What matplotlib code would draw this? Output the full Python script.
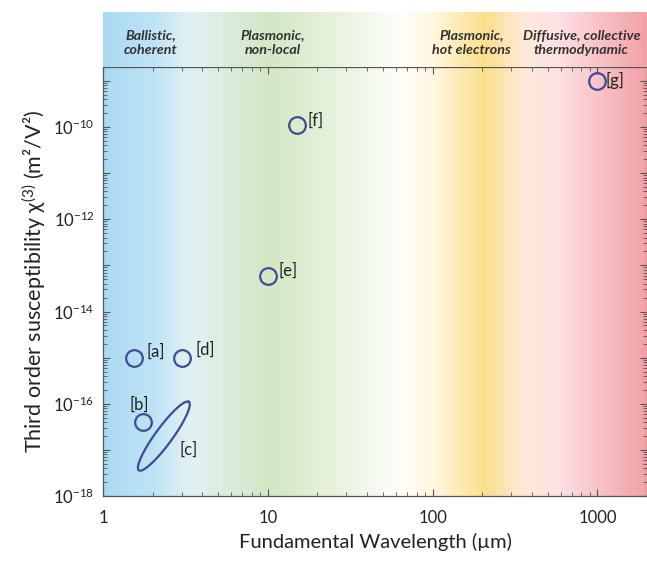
import numpy as np
import matplotlib
matplotlib.use('Agg')
import matplotlib.pyplot as plt
from matplotlib.colors import LinearSegmentedColormap
from matplotlib.ticker import FixedLocator, FuncFormatter, LogLocator, NullFormatter

plt.rcParams['font.family'] = ['Lato', 'DejaVu Sans']
plt.rcParams['mathtext.fontset'] = 'custom'
plt.rcParams['mathtext.rm'] = 'Lato'
plt.rcParams['mathtext.it'] = 'Lato:italic'
plt.rcParams['mathtext.bf'] = 'Lato:bold'

# data (wavelength in um, chi3 in m^2/V^2)
point_names = ['a', 'b', 'd', 'e', 'f', 'g']
wavelength = [1.55, 1.75, 3.0, 10.0, 15.0, 1000.0]
chi3 = [1.0e-15, 4.0e-17, 1.0e-15, 6.0e-14, 1.1e-10, 1.0e-9]

# [c] is a range, drawn as an ellipse between these two tips
c_tips_wavelength = [1.65, 3.32]
c_tips_chi3 = [3.6e-18, 1.1e-16]

regimes = ['Ballistic,\ncoherent', 'Plasmonic,\nnon-local',
           'Plasmonic,\nhot electrons', 'Diffusive, collective\nthermodynamic']
regime_center = [1.95, 10.7, 172, 800]

x_ticks = [1, 10, 100, 1000]
y_ticks = [1e-18, 1e-17, 1e-16, 1e-15, 1e-14, 1e-13, 1e-12, 1e-11, 1e-10, 1e-9]

xmin, xmax = 1, 2000
ymin, ymax = 1e-18, 2e-9

# background colour bands, stops in log10(wavelength)
lmax = np.log10(xmax)
stops = [(0.00, '#aadaf2'), (0.30, '#bfe3f6'), (0.52, '#e2f1f4'),
         (1.01, '#d3e7c4'), (1.59, '#f1f8ea'), (1.80, '#fefefa'),
         (2.02, '#fff6dc'), (2.32, '#fbdf8c'), (2.55, '#fde9d6'),
         (2.76, '#fde2e4'), (lmax, '#f2a1a6')]
cmap = LinearSegmentedColormap.from_list('bands', [(s / lmax, c) for s, c in stops])
grad = np.linspace(0, 1, 600).reshape(1, -1)

fig = plt.figure(figsize=(6.47, 5.63), dpi=100)
ax = fig.add_axes([103 / 647, 67 / 563, 544 / 647, 429 / 563])
band = fig.add_axes([103 / 647, 496 / 563, 544 / 647, 55 / 563])

for a in (ax, band):
    a.imshow(grad, cmap=cmap, aspect='auto', extent=[0, 1, 0, 1],
             transform=a.transAxes, zorder=0, interpolation='bilinear')

# band with regime names
band.set_xscale('log')
band.set_xlim(xmin, xmax)
band.set_ylim(0, 1)
band.axis('off')
for name, xc in zip(regimes, regime_center):
    band.text(xc, 0.44, name, ha='center', va='center', fontsize=10.3,
              fontweight='bold', fontstyle='italic', color='#333333',
              linespacing=1.25)

# main axes
ax.set_xscale('log')
ax.set_yscale('log')
ax.set_xlim(xmin, xmax)
ax.set_ylim(ymin, ymax)

mcol = '#3f4d96'
ax.plot(wavelength, chi3, 'o', ms=12, mfc='none', mec=mcol, mew=1.6, zorder=3)

offsets = {'a': (9, 4, 'left'), 'b': (-3, 12.5, 'center'), 'd': (10, 6, 'left'),
           'e': (8, 3.5, 'left'), 'f': (8, 3, 'left'), 'g': (6, 0, 'left')}
for name, xv, yv in zip(point_names, wavelength, chi3):
    dx, dy, ha = offsets[name]
    ax.annotate('[%s]' % name, (xv, yv), xytext=(dx, dy), textcoords='offset points',
                ha=ha, va='center', fontsize=12, color='#222222')

# ellipse for [c], built in pixel space so it keeps its shape on log axes
p1 = ax.transData.transform((c_tips_wavelength[0], c_tips_chi3[0]))
p2 = ax.transData.transform((c_tips_wavelength[1], c_tips_chi3[1]))
center = (p1 + p2) / 2
u = (p2 - p1) / 2
semi_major = np.hypot(*u)
u = u / semi_major
v = np.array([-u[1], u[0]])
semi_minor = 8.5
t = np.linspace(0, 2 * np.pi, 200)
pts = center + np.outer(semi_major * np.cos(t), u) + np.outer(semi_minor * np.sin(t), v)
data_pts = ax.transData.inverted().transform(pts)
ax.plot(data_pts[:, 0], data_pts[:, 1], color=mcol, lw=1.6, zorder=3)
cdata = ax.transData.inverted().transform(center)
ax.annotate('[c]', cdata, xytext=(11.5, -9.5), textcoords='offset points',
            ha='left', va='center', fontsize=12, color='#222222')

# ticks
ax.xaxis.set_major_locator(FixedLocator(x_ticks))
ax.xaxis.set_major_formatter(FuncFormatter(lambda val, pos: '%d' % val))
ax.xaxis.set_minor_locator(LogLocator(base=10, subs=np.arange(2, 10), numticks=20))
ax.xaxis.set_minor_formatter(NullFormatter())

def ylab(val, pos):
    e = int(round(np.log10(val)))
    return r'$\mathregular{10^{%d}}$' % e if e % 2 == 0 and e <= -10 else ''

ax.yaxis.set_major_locator(FixedLocator(y_ticks))
ax.yaxis.set_major_formatter(FuncFormatter(ylab))
ax.yaxis.set_minor_locator(LogLocator(base=10, subs=np.arange(2, 10), numticks=30))
ax.yaxis.set_minor_formatter(NullFormatter())

ax.tick_params(which='both', direction='in', top=True, right=True, color='#555555')
ax.tick_params(which='major', length=5, width=0.8, labelsize=12, labelcolor='#222222')
ax.tick_params(which='minor', length=3, width=0.6)
ax.tick_params(axis='x', which='major', pad=10)
ax.tick_params(axis='y', which='major', pad=6)
for s in ax.spines.values():
    s.set_color('#555555')
    s.set_linewidth(0.9)

ax.set_xlabel('Fundamental Wavelength (µm)', fontsize=14.5, color='#222222', labelpad=5)
ax.set_ylabel('Third order susceptibility χ$^{(3)}$ (m²/V²)', fontsize=15.5,
              color='#222222', labelpad=4)

fig.patch.set_facecolor('white')
fig.savefig('out.png', dpi=100)
